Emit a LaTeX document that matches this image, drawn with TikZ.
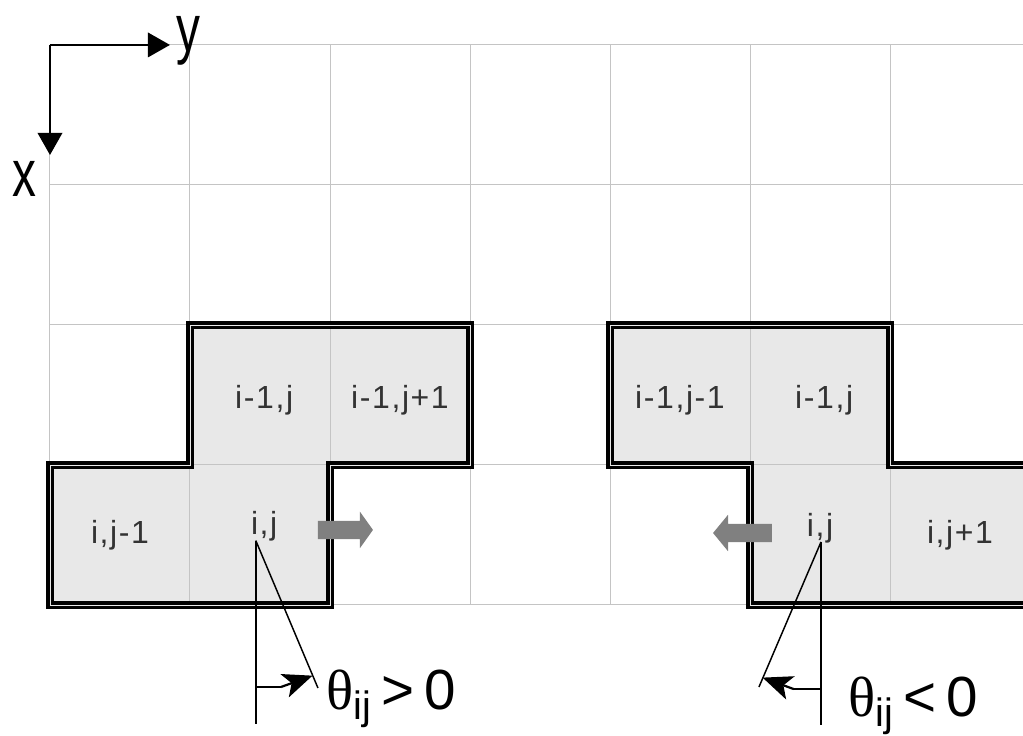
\documentclass[tikz,border=0pt]{standalone}
\usepackage{fontspec}
\setmainfont{Liberation Sans}
\newfontfamily\thetafont{Liberation Serif}
\newfontfamily\cellfont[LetterSpace=5]{Liberation Sans}
\newfontfamily\axisfont[FakeStretch=0.72]{Liberation Sans}
\usetikzlibrary{arrows.meta}
\definecolor{cellgray}{HTML}{E8E8E8}
\definecolor{gridgray}{HTML}{C4C4C4}
\definecolor{labelgray}{HTML}{333333}
\begin{document}
\begin{tikzpicture}[x=2cm, y=2cm,
    gridline/.style={gridgray, line width=0.4pt},
    outline/.style={draw=black, double=cellgray, line width=1.4pt, double distance=0.35pt},
    celllabel/.style={font=\cellfont\fontsize{13}{15}\selectfont, text=labelgray},
    thetalabel/.style={font=\fontsize{23}{27}\selectfont, inner sep=0pt, anchor=base west},
    axislabel/.style={font=\axisfont\fontsize{27}{30}\selectfont, inner sep=0pt, anchor=base west},
    axisarrow/.style={line width=0.8pt, -{Triangle[width=10pt, length=9pt]}},
    anglearrow/.style={line width=0.9pt, -{Stealth[length=12pt, width=10pt, inset=3pt]}},
    blockarrow/.style={fill=gray}]
    \clip (-0.357,-0.929) rectangle (6.95,4.321);
    \fill[white] (-0.357,-0.929) rectangle (6.95,4.321);
    % shaded cells
    \fill[cellgray] (0,0) -- (0,1) -- (1,1) -- (1,2) -- (3,2) -- (3,1) -- (2,1) -- (2,0) -- cycle;
    \fill[cellgray] (7,1) -- (6,1) -- (6,2) -- (4,2) -- (4,1) -- (5,1) -- (5,0) -- (7,0) -- cycle;
    % grid
    \draw[gridline, step=2cm] (0,0) grid (7,4);
    % outlines
    \draw[outline] (0,0) -- (0,1) -- (1,1) -- (1,2) -- (3,2) -- (3,1) -- (2,1) -- (2,0) -- cycle;
    \draw[outline] (7.2,1) -- (6,1) -- (6,2) -- (4,2) -- (4,1) -- (5,1) -- (5,0) -- (7.2,0);
    % axes
    \coordinate (origin) at (0,4);
    \coordinate (ytip) at (0.857,4);
    \coordinate (xtip) at (0,3.214);
    \draw[axisarrow] (origin) -- (ytip);
    \draw[axisarrow] (origin) -- (xtip);
    \node[axislabel] (ylab) at (0.9,3.95) {y};
    \node[axislabel] (xlab) at (-0.27,2.914) {x};
    % cell labels
    \node[celllabel] (lup) at (1.53,1.46) {i-1,j};
    \node[celllabel] (lupr) at (2.5,1.46) {i-1,j+1};
    \node[celllabel] (lleft) at (0.5,0.5) {i,j-1};
    \node[celllabel] (lij) at (1.53,0.56) {i,j};
    \node[celllabel] (rupl) at (4.5,1.46) {i-1,j-1};
    \node[celllabel] (rup) at (5.53,1.46) {i-1,j};
    \node[celllabel] (rij) at (5.5,0.55) {i,j};
    \node[celllabel] (rright) at (6.5,0.5) {i,j+1};
    % block arrows
    \fill[blockarrow] (1.914,0.471) -- (2.214,0.471) -- (2.214,0.406) -- (2.307,0.536)
        -- (2.214,0.666) -- (2.214,0.601) -- (1.914,0.601) -- cycle;
    \fill[blockarrow] (5.157,0.449) -- (4.843,0.449) -- (4.843,0.384) -- (4.736,0.514)
        -- (4.843,0.644) -- (4.843,0.579) -- (5.157,0.579) -- cycle;
    % angle, left
    \coordinate (lpiv) at (1.47,0.46);
    \coordinate (lbot) at (1.47,-0.85);
    \coordinate (lend) at (1.914,-0.593);
    \coordinate (lbend) at (1.65,-0.586);
    \coordinate (lhead) at (1.875,-0.505);
    \draw[semithick] (lpiv) -- (lbot);
    \draw[semithick] (lpiv) -- (lend);
    \draw[line width=0.9pt] (1.47,-0.586) -- (lbend);
    \draw[anglearrow] (lbend) -- (lhead);
    \node[thetalabel] (tpos) at (1.97,-0.75) {{\thetafont θ}\textsubscript{ij}\,>\,0};
    % angle, right
    \coordinate (rpiv) at (5.507,0.45);
    \coordinate (rbot) at (5.507,-0.857);
    \coordinate (rend) at (5.064,-0.586);
    \coordinate (rbend) at (5.31,-0.6);
    \coordinate (rhead) at (5.09,-0.519);
    \draw[semithick] (rpiv) -- (rbot);
    \draw[semithick] (rpiv) -- (rend);
    \draw[line width=0.9pt] (5.507,-0.6) -- (rbend);
    \draw[anglearrow] (rbend) -- (rhead);
    \node[thetalabel] (tneg) at (5.7,-0.8) {{\thetafont θ}\textsubscript{ij}\,<\,0};
\end{tikzpicture}
\end{document}
